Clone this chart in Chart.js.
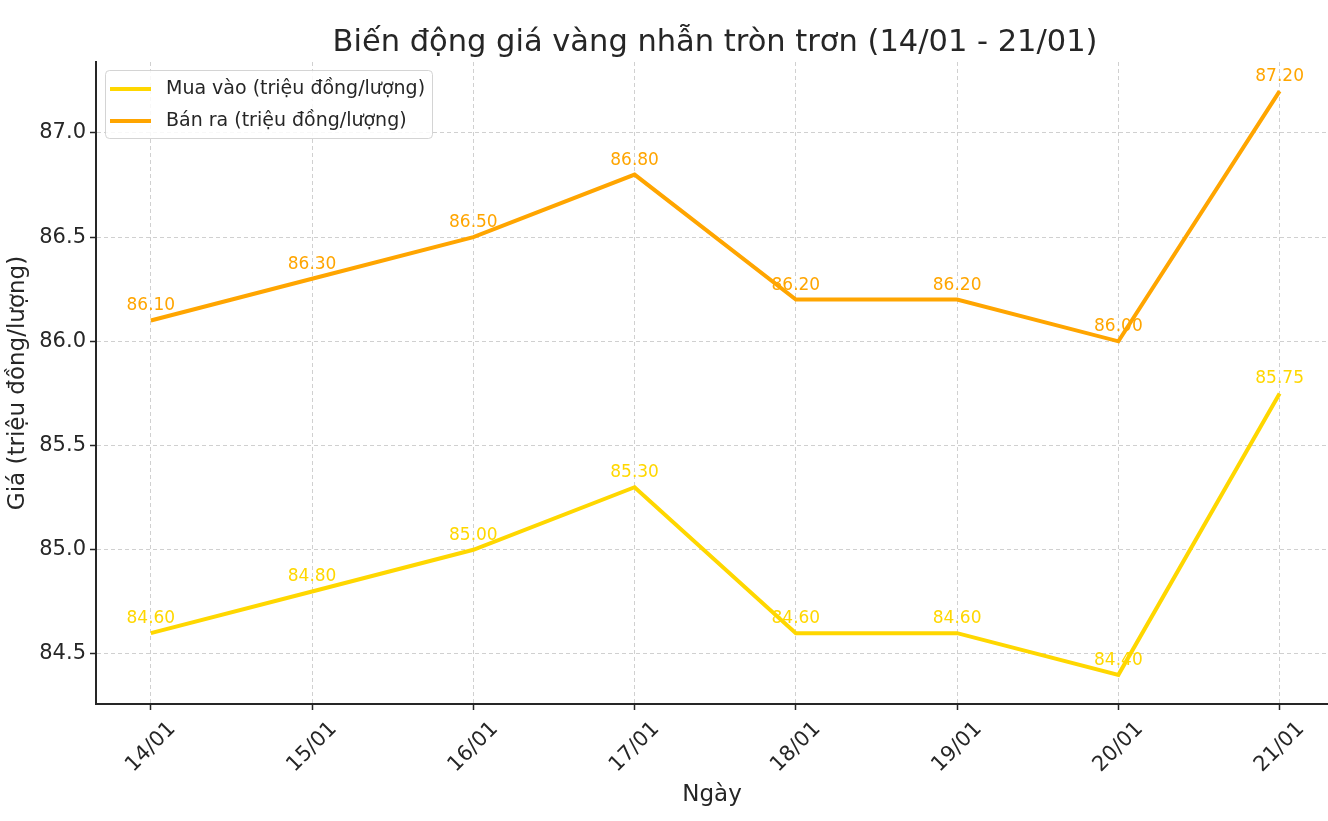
<!DOCTYPE html>
<html>
<head>
<meta charset="utf-8">
<script src="https://cdn.jsdelivr.net/npm/chart.js@4.4.1/dist/chart.umd.min.js"></script>
<style>
  html, body { margin: 0; padding: 0; background: #fff; }
  #wrap { width: 1328px; height: 821px; position: relative; }
</style>
</head>
<body>
<div id="wrap"><canvas id="goldChart" width="1328" height="821"></canvas></div>
<script>
const days = ['14/01', '15/01', '16/01', '17/01', '18/01', '19/01', '20/01', '21/01'];
const buyPrices = [84.6, 84.8, 85.0, 85.3, 84.6, 84.6, 84.4, 85.75];
const sellPrices = [86.1, 86.3, 86.5, 86.8, 86.2, 86.2, 86.0, 87.2];
const yTicks = [84.5, 85.0, 85.5, 86.0, 86.5, 87.0];

const TITLE = 'Biến động giá vàng nhẫn tròn trơn (14/01 - 21/01)';
const BUY_LABEL = 'Mua vào (triệu đồng/lượng)';
const SELL_LABEL = 'Bán ra (triệu đồng/lượng)';
const BUY_COLOR = '#FFD700';
const SELL_COLOR = '#FFA500';
const INK = '#262626';
const FONT = "'DejaVu Sans', sans-serif";
const TICK_SIZE = 21;

const toPoints = (values) => values.map((v, i) => ({ x: i, y: v }));

/* -----------------------------
   Plugins
------------------------------ */

const titlePlugin = {
  id: 'mplTitle',
  afterDraw(chart) {
    const { ctx, chartArea } = chart;
    ctx.save();
    ctx.font = `30.5px ${FONT}`;
    ctx.fillStyle = INK;
    ctx.textAlign = 'center';
    ctx.textBaseline = 'alphabetic';
    ctx.fillText(TITLE, (chartArea.left + chartArea.right) / 2 + 3, 51);
    ctx.restore();
  },
};

// matplotlib style rotated x labels: bbox centred under the tick
const xLabels = {
  id: 'xLabels',
  afterDraw(chart) {
    const { ctx, chartArea } = chart;
    const xScale = chart.scales.x;
    ctx.save();
    ctx.font = `${TICK_SIZE}px ${FONT}`;
    ctx.fillStyle = INK;
    ctx.textAlign = 'center';
    ctx.textBaseline = 'middle';
    const h = TICK_SIZE * 1.05;
    days.forEach((label, i) => {
      const w = ctx.measureText(label).width;
      const boxH = (w + h) / Math.SQRT2;
      const cx = xScale.getPixelForValue(i);
      const cy = chartArea.bottom + 14 + boxH / 2;
      ctx.save();
      ctx.translate(cx, cy);
      ctx.rotate(-Math.PI / 4);
      ctx.fillText(label, 0, 0);
      ctx.restore();
    });
    ctx.restore();
  },
};

// value annotations sit under the lines, like the reference
const valueLabels = {
  id: 'valueLabels',
  beforeDatasetsDraw(chart) {
    const { ctx } = chart;
    ctx.save();
    ctx.font = `17px ${FONT}`;
    ctx.textAlign = 'center';
    ctx.textBaseline = 'alphabetic';
    chart.data.datasets.forEach((ds, di) => {
      const meta = chart.getDatasetMeta(di);
      ctx.fillStyle = ds.borderColor;
      meta.data.forEach((pt, i) => {
        ctx.fillText(ds.data[i].y.toFixed(2), pt.x, pt.y - 10);
      });
    });
    ctx.restore();
  },
};

const innerLegend = {
  id: 'innerLegend',
  afterDraw(chart) {
    const { ctx, chartArea } = chart;
    const x = chartArea.left + 9;
    const y = chartArea.top + 8;
    const w = 327;
    const h = 68;
    ctx.save();
    ctx.globalAlpha = 0.85;
    ctx.fillStyle = '#fff';
    ctx.strokeStyle = '#cccccc';
    ctx.lineWidth = 1;
    ctx.beginPath();
    ctx.roundRect(x + 0.5, y + 0.5, w, h, 4);
    ctx.fill();
    ctx.stroke();
    ctx.globalAlpha = 1;
    ctx.font = `19px ${FONT}`;
    ctx.textBaseline = 'middle';
    ctx.textAlign = 'left';
    chart.data.datasets.forEach((ds, i) => {
      const cy = y + 19 + i * 32;
      ctx.strokeStyle = ds.borderColor;
      ctx.lineWidth = 4;
      ctx.beginPath();
      ctx.moveTo(x + 5, cy);
      ctx.lineTo(x + 46, cy);
      ctx.stroke();
      ctx.fillStyle = INK;
      ctx.fillText(ds.label, x + 61, cy);
    });
    ctx.restore();
  },
};

/* -----------------------------
   Chart
------------------------------ */

const gridOpts = {
  color: '#d0d0d0',
  lineWidth: 1,
  drawTicks: true,
  tickLength: 6,
  tickColor: INK,
  tickBorderDash: [],
  tickWidth: 1.5,
};

new Chart(document.getElementById('goldChart'), {
  type: 'line',
  data: {
    datasets: [
      {
        label: BUY_LABEL,
        data: toPoints(buyPrices),
        borderColor: BUY_COLOR,
        backgroundColor: BUY_COLOR,
        borderWidth: 4,
        pointRadius: 0,
        tension: 0,
      },
      {
        label: SELL_LABEL,
        data: toPoints(sellPrices),
        borderColor: SELL_COLOR,
        backgroundColor: SELL_COLOR,
        borderWidth: 4,
        pointRadius: 0,
        tension: 0,
      },
    ],
  },
  options: {
    responsive: false,
    animation: false,
    layout: { padding: { top: 62, right: 0, left: 0, bottom: 0 } },
    plugins: {
      legend: { display: false },
      tooltip: { enabled: false },
      title: { display: false },
    },
    scales: {
      x: {
        type: 'linear',
        min: -0.34,
        max: 7.3,
        afterBuildTicks: (scale) => {
          scale.ticks = days.map((_, i) => ({ value: i }));
        },
        afterFit: (scale) => { scale.height = 117; },
        ticks: { display: false },
        grid: gridOpts,
        border: { display: true, color: INK, width: 2, dash: [4, 3] },
        title: {
          display: true,
          text: 'Ngày',
          color: INK,
          font: { family: FONT, size: 23 },
          padding: { top: 0, bottom: 12 },
        },
      },
      y: {
        type: 'linear',
        min: 84.26,
        max: 87.34,
        afterBuildTicks: (scale) => {
          scale.ticks = yTicks.map((v) => ({ value: v }));
        },
        afterFit: (scale) => { scale.width = 96; },
        ticks: {
          callback: (v) => Number(v).toFixed(1),
          color: INK,
          font: { family: FONT, size: TICK_SIZE },
          padding: 4,
        },
        grid: gridOpts,
        border: { display: true, color: INK, width: 2, dash: [4, 3] },
        title: {
          display: true,
          text: 'Giá (triệu đồng/lượng)',
          color: INK,
          font: { family: FONT, size: 23 },
          padding: { top: 4, bottom: 6 },
        },
      },
    },
  },
  plugins: [titlePlugin, xLabels, valueLabels, innerLegend],
});
</script>
</body>
</html>
